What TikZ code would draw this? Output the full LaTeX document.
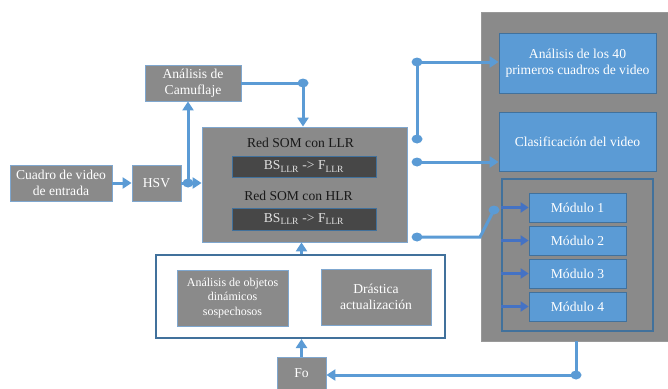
\documentclass[tikz,border=0pt]{standalone}
\usepackage{fontspec}
\setmainfont{Liberation Serif}
\usetikzlibrary{arrows.meta,positioning}
\definecolor{boxgray}{HTML}{8A8A8A}
\definecolor{boxdark}{HTML}{474747}
\definecolor{boxblue}{HTML}{5B9BD5}
\definecolor{darkblue}{HTML}{41719C}
\definecolor{lineblue}{HTML}{5B9BD5}
\definecolor{modblue}{HTML}{4472C4}
\definecolor{edgeblue}{HTML}{7FA7CF}

\begin{document}
\begin{tikzpicture}[x=1pt,y=-1pt]
\tikzstyle{every node}+=[inner sep=0pt, align=center, font=\fontsize{13.6}{16}\selectfont]
\tikzstyle{graybox}=[fill=boxgray, draw=edgeblue, line width=0.8pt, text=white]
\tikzstyle{bluebox}=[fill=boxblue, draw=darkblue, line width=0.8pt, text=white]
\tikzstyle{darkbox}=[fill=boxdark, draw=darkblue, line width=0.8pt, text=white!88!black]
\tikzstyle{frame}=[draw=darkblue, line width=2pt]
\tikzstyle{link}=[draw=lineblue, line width=3pt]
\tikzstyle{arr}=[link, -{Triangle[length=9pt,width=11pt]}]
\tikzstyle{modarr}=[draw=modblue, line width=2.5pt, -{Triangle[length=8pt,width=10pt]}]
\tikzstyle{dot}=[fill=lineblue]
\useasboundingbox (0,0) rectangle (668,388);
\node[fill=boxgray, draw=gray!80, line width=0.8pt, minimum width=188pt, minimum height=329pt] (panel) at (575,176.5) {};
\node[bluebox, minimum width=157pt, minimum height=60pt] (ana40) at (577.5,63) {An\'alisis de los 40\\primeros cuadros de video};
\node[bluebox, minimum width=157pt, minimum height=59pt] (clasif) at (577.5,141.5) {Clasificaci\'on del video};
\node[frame, minimum width=151pt, minimum height=152pt] (modframe) at (577.5,255) {};
\foreach \i in {1,...,4}
  \node[bluebox, minimum width=97pt, minimum height=29pt] (mod\i) at (577.5,{207.5+33*(\i-1)}) {M\'odulo \i};
\node[graybox, minimum width=102pt, minimum height=36pt] (cuadro) at (61,183) {Cuadro de video\\de entrada};
\node[graybox, minimum width=49pt, minimum height=36pt] (hsv) at (156.5,183) {HSV};
\node[graybox, minimum width=96pt, minimum height=36pt] (camuf) at (193,83) {An\'alisis de\\Camuflaje};
\node[graybox, minimum width=205pt, minimum height=115pt] (som) at (304.5,184.5) {};
\node[text=black!90] (llrtxt) at (300.5,143) {Red SOM con LLR};
\node[darkbox, minimum width=144pt, minimum height=21pt] (llr) at (304,166.5) {BS\textsubscript{LLR} -> F\textsubscript{LLR}};
\node[text=black!90] (hlrtxt) at (298.5,196) {Red SOM con HLR};
\node[darkbox, minimum width=144pt, minimum height=22pt] (hlr) at (304,219) {BS\textsubscript{LLR} -> F\textsubscript{LLR}};
\node[frame, fill=white, minimum width=289pt, minimum height=83pt] (lower) at (300.5,296.5) {};
\node[graybox, font=\fontsize{12}{14.5}\selectfont, minimum width=111pt, minimum height=56pt] (objetos) at (232.5,298) {An\'alisis de objetos\\din\'amicos\\sospechosos};
\node[graybox, minimum width=110pt, minimum height=56pt] (drastica) at (376,297) {Dr\'astica\\actualizaci\'on};
\node[graybox, minimum width=49pt, minimum height=32pt] (fo) at (301.5,373) {Fo};
\coordinate (d1) at (188,183);
\coordinate (d2) at (303,83);
\coordinate (d3) at (417,62);
\coordinate (d4) at (417,139);
\coordinate (d5) at (417,162);
\coordinate (d7) at (417,237);
\coordinate (bend) at (480,237);
\coordinate (d8) at (494,210);
\coordinate (d6) at (576,375);
\draw[arr] (cuadro) -- (hsv);
\draw[link] (hsv) -- (d1);
\draw[arr] (d1) -- (d1 -| som.west);
\draw[arr] (d1) -- (d1 |- camuf.south);
\draw[link] (camuf.east |- d2) -- (d2);
\draw[arr] (d2) -- (d2 |- som.north);
\draw[arr] (fo.north) -- (fo.north |- lower.south);
\draw[arr] (fo.north |- lower.north) -- (fo.north |- som.south);
\draw[arr] (d3) -- (d3 -| ana40.west);
\draw[link] (d3) -- (d4);
\draw[arr] (d5) -- (d5 -| clasif.west);
\draw[link] (d7) -- (bend) -- (d8);
\draw[link] (panel.south -| d6) -- (d6);
\draw[arr] (d6) -- (d6 -| fo.east);
\foreach \i in {1,...,4}
  \draw[modarr] (mod\i.west -| modframe.west) -- (mod\i.west);
\foreach \p in {d1,d2,d3,d4,d5,d7,d8,d6}
  \fill[dot] (\p) ellipse [x radius=5.5pt, y radius=4.5pt];
\end{tikzpicture}
\end{document}
